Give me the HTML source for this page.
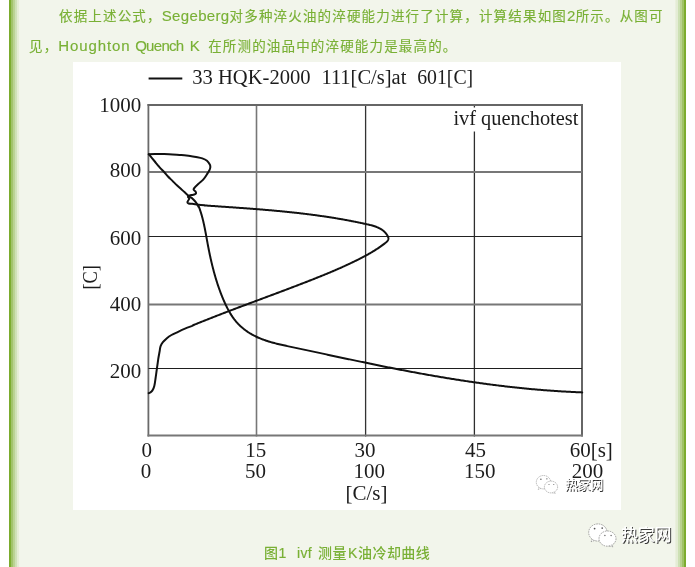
<!DOCTYPE html>
<html><head><meta charset="utf-8">
<style>
html,body{margin:0;padding:0;background:#fff;}
body{width:695px;height:567px;overflow:hidden;position:relative;}
.box{position:absolute;left:9px;top:0;width:677px;height:567px;
background:linear-gradient(to right,#7aab2b 0px,#7dad30 2px,#9fc266 2px,#a4c56e 4px,#b8d18f 4px,#bdd496 6px,#cde0b4 6px,#d2e3ba 8px,#e4ecd5 8px,#e6eed8 10px,#f1f4e6 10px,#f2f5eb 11px,#f2f5eb 666px,#f1f4e6 666px,#e4ecd5 667px,#e4ecd5 669px,#cde0b4 669px,#cde0b4 671px,#b8d18f 671px,#b8d18f 673px,#9fc266 673px,#9fc266 675px,#7dad30 675px,#7aab2b 677px);}
.p{position:absolute;left:28.5px;width:650px;color:#79b035;font-family:"Liberation Sans","Noto Sans CJK SC",sans-serif;font-size:13.5px;letter-spacing:1.17px;white-space:nowrap;line-height:20px;font-weight:normal;-webkit-text-stroke:0.15px #79b035;}
.p .e{font-size:15px;letter-spacing:0.35px;font-weight:normal;-webkit-text-stroke:0.15px #79b035;}
.chart{position:absolute;left:73px;top:62px;width:548px;height:448px;background:#fff;}
.chart svg{position:absolute;left:0;top:0;will-change:transform;}
.cap{position:absolute;top:543px;color:#79b035;font-family:"Liberation Sans","Noto Sans CJK SC",sans-serif;font-size:14px;letter-spacing:0.45px;font-weight:500;white-space:nowrap;line-height:20px;}
.cap .e{font-size:14px;letter-spacing:0.3px;font-weight:normal;-webkit-text-stroke:0.2px #79b035;}
.wm{position:absolute;font-family:"Noto Sans CJK SC",sans-serif;color:#fff;white-space:nowrap;line-height:1;}
.ov{position:absolute;left:0;top:0;}
.p,.cap,.wm{will-change:transform;}
</style></head><body>
<div class="box"></div>
<div class="p" style="top:6.1px;text-indent:30px;">依据上述公式，<span class="e">Segeberg</span>对多种淬火油的淬硬能力进行了计算，计算结果如图<span class="e">2</span>所示。从图可</div>
<div class="p" style="top:36px;">见，<span class="e" style="letter-spacing:0.9px">Houghton</span><span class="e"> </span><span class="e" style="letter-spacing:-0.7px">Quench</span><span class="e" style="letter-spacing:2.1px"> K </span>在所测的油品中的淬硬能力是最高的。</div>
<div class="chart">
<svg width="548" height="448" viewBox="73 62 548 448">
<g fill="none">
<line x1="148.4" y1="104" x2="148.4" y2="436.4" stroke="#6a6a6a" stroke-width="1.8"/>
<line x1="256.5" y1="104" x2="256.5" y2="436.4" stroke="#777" stroke-width="1.6"/>
<line x1="365.6" y1="104" x2="365.6" y2="436.4" stroke="#333" stroke-width="1.3"/>
<line x1="474.4" y1="104" x2="474.4" y2="436.4" stroke="#2e2e2e" stroke-width="1.3"/>
<line x1="582" y1="104" x2="582" y2="436.4" stroke="#666" stroke-width="2"/>
<line x1="147.5" y1="105" x2="583" y2="105" stroke="#666" stroke-width="2"/>
<line x1="148.5" y1="172" x2="582" y2="172" stroke="#777" stroke-width="2"/>
<line x1="148.5" y1="236.5" x2="582" y2="236.5" stroke="#222" stroke-width="1.2"/>
<line x1="148.5" y1="304.5" x2="582" y2="304.5" stroke="#777" stroke-width="1.8"/>
<line x1="148.5" y1="368.5" x2="582" y2="368.5" stroke="#1e1e1e" stroke-width="1.2"/>
<line x1="147.5" y1="435.5" x2="583" y2="435.5" stroke="#777" stroke-width="2"/>
<rect x="470" y="107.5" width="9" height="24" fill="#fff" stroke="none"/>
<line x1="148.6" y1="78.4" x2="182.3" y2="78.4" stroke="#111" stroke-width="2"/>
<path d="M148.8 154.3 C149.8 154.2 152.3 154.0 154.8 154.0 C157.3 154.0 160.7 154.0 163.6 154.1 C166.5 154.2 169.6 154.3 172.5 154.5 C175.4 154.7 178.4 154.8 181.3 155.0 C184.2 155.2 187.7 155.7 190.1 156.0 C192.5 156.3 194.0 156.6 196.0 157.0 C198.0 157.4 200.5 157.8 202.3 158.4 C204.1 159.0 205.8 159.8 207.0 160.8 C208.2 161.8 209.2 163.4 209.8 164.5 C210.4 165.6 210.4 166.5 210.3 167.5 C210.2 168.5 209.8 169.5 209.3 170.5 C208.8 171.5 208.4 172.1 207.4 173.6 C206.4 175.1 204.9 177.7 203.4 179.4 C201.9 181.1 199.9 182.4 198.5 183.7 C197.1 185.0 195.6 186.4 194.8 187.4 C194.0 188.4 193.5 188.9 193.6 189.6 C193.7 190.3 195.0 190.8 195.4 191.4 C195.8 192.0 196.2 192.8 196.0 193.3 C195.8 193.8 195.0 194.2 194.2 194.5 C193.4 194.8 192.0 194.9 191.1 195.1 C190.2 195.3 189.5 195.4 189.0 195.7 C188.5 196.0 187.9 196.5 188.0 197.0 C188.1 197.5 189.2 197.9 189.3 198.5 C189.4 199.1 188.6 199.8 188.3 200.4 C188.0 201.0 187.4 201.7 187.4 202.2 C187.4 202.7 187.8 203.2 188.6 203.5 C189.4 203.8 191.0 203.7 192.3 203.8 C193.7 204.0 194.6 204.2 196.7 204.4 C198.8 204.7 203.4 205.2 204.7 205.3 L204.59 205.44 L205.42 205.50 L206.24 205.56 L207.06 205.62 L207.89 205.67 L208.71 205.73 L209.53 205.79 L210.35 205.84 L211.18 205.90 L212.00 205.96 L212.82 206.01 L213.64 206.07 L214.46 206.12 L215.28 206.18 L216.10 206.24 L216.92 206.29 L217.74 206.35 L218.56 206.41 L219.38 206.46 L220.20 206.52 L221.01 206.57 L221.83 206.63 L222.65 206.69 L223.47 206.74 L224.29 206.80 L225.10 206.85 L225.92 206.91 L226.74 206.97 L227.55 207.02 L228.37 207.08 L229.18 207.14 L230.00 207.19 L230.82 207.25 L231.63 207.31 L232.45 207.36 L233.26 207.42 L234.07 207.48 L234.89 207.53 L235.70 207.59 L236.52 207.65 L237.33 207.71 L238.14 207.76 L238.96 207.82 L239.77 207.88 L240.58 207.94 L241.40 208.00 L242.21 208.06 L243.02 208.11 L243.83 208.17 L244.64 208.23 L245.46 208.29 L246.27 208.35 L247.08 208.41 L247.89 208.47 L248.70 208.53 L249.51 208.59 L250.32 208.66 L251.13 208.72 L251.94 208.78 L252.75 208.84 L253.56 208.90 L254.37 208.97 L255.18 209.03 L255.99 209.09 L256.80 209.16 L257.61 209.22 L258.42 209.28 L259.23 209.35 L260.04 209.41 L260.84 209.48 L261.65 209.54 L262.46 209.61 L263.27 209.68 L264.08 209.74 L264.88 209.81 L265.69 209.88 L266.50 209.95 L267.31 210.02 L268.11 210.09 L268.92 210.16 L269.73 210.23 L270.54 210.30 L271.34 210.37 L272.15 210.44 L272.96 210.51 L273.76 210.58 L274.57 210.66 L275.38 210.73 L276.18 210.80 L276.99 210.88 L277.80 210.95 L278.60 211.03 L279.41 211.10 L280.21 211.18 L281.02 211.26 L281.83 211.34 L282.63 211.41 L283.44 211.49 L284.24 211.57 L285.05 211.65 L285.85 211.73 L286.66 211.82 L287.47 211.90 L288.27 211.98 L289.08 212.06 L289.88 212.15 L290.69 212.23 L291.49 212.32 L292.30 212.40 L293.10 212.49 L293.91 212.58 L294.71 212.66 L295.52 212.75 L296.32 212.84 L297.13 212.93 L297.93 213.02 L298.74 213.11 L299.54 213.21 L300.35 213.30 L301.15 213.39 L301.96 213.49 L302.76 213.58 L303.57 213.68 L304.37 213.78 L305.18 213.87 L305.98 213.97 L306.79 214.07 L307.59 214.17 L308.40 214.27 L309.21 214.37 L310.01 214.48 L310.82 214.58 L311.62 214.68 L312.43 214.79 L313.23 214.90 L314.04 215.00 L314.84 215.11 L315.65 215.22 L316.45 215.33 L317.26 215.44 L318.06 215.55 L318.87 215.66 L319.68 215.78 L320.48 215.89 L321.29 216.00 L322.09 216.12 L322.90 216.24 L323.70 216.36 L324.51 216.47 L325.32 216.59 L326.12 216.71 L326.93 216.84 L327.74 216.96 L328.54 217.08 L329.35 217.21 L330.16 217.33 L330.96 217.46 L331.77 217.59 L332.58 217.72 L333.38 217.85 L334.19 217.98 L335.00 218.11 L335.81 218.24 L336.61 218.38 L337.42 218.51 L338.23 218.65 L339.04 218.79 L339.84 218.93 L340.65 219.07 L341.46 219.21 L342.27 219.35 L343.08 219.49 L343.89 219.64 L344.69 219.78 L345.50 219.93 L346.31 220.08 L347.12 220.23 L347.93 220.38 L348.74 220.53 L349.55 220.68 L350.36 220.84 L351.17 220.99 L351.98 221.15 L352.79 221.31 L353.60 221.47 L354.41 221.63 L355.22 221.79 L356.03 221.95 L356.85 222.11 L357.66 222.28 L358.47 222.45 L359.28 222.61 L360.09 222.78 L360.90 222.95 L361.72 223.12 L362.53 223.30 L363.34 223.47 L364.15 223.65 L364.97 223.83 L365.78 224.00 L366.59 224.18 L367.41 224.37 L368.22 224.55 L369.03 224.74 L369.84 224.93 L370.64 225.13 L371.44 225.34 L372.24 225.56 L373.02 225.78 L373.81 226.02 L374.58 226.27 L375.35 226.53 L376.10 226.80 L376.85 227.09 L377.58 227.39 L378.31 227.72 L379.02 228.05 L379.72 228.41 L380.40 228.79 L381.07 229.19 L381.73 229.61 L382.37 230.05 L382.99 230.52 L383.59 231.01 L384.17 231.53 L384.74 232.07 L385.28 232.65 L385.80 233.25 L386.30 233.89 L386.78 234.55 L387.23 235.25 L387.65 235.97 L388.00 236.71 L388.26 237.45 L388.40 238.18 L388.39 238.88 L388.24 239.54 L387.95 240.18 L387.56 240.80 L387.06 241.39 L386.50 241.97 L385.87 242.52 L385.21 243.07 L384.52 243.60 L383.83 244.12 L383.14 244.64 L382.45 245.15 L381.75 245.66 L381.06 246.15 L380.37 246.65 L379.67 247.13 L378.97 247.61 L378.28 248.08 L377.58 248.54 L376.88 249.00 L376.18 249.46 L375.49 249.91 L374.79 250.35 L374.08 250.79 L373.38 251.22 L372.68 251.65 L371.98 252.07 L371.27 252.49 L370.57 252.91 L369.86 253.32 L369.16 253.72 L368.45 254.12 L367.74 254.52 L367.03 254.92 L366.32 255.31 L365.61 255.69 L364.90 256.08 L364.19 256.46 L363.47 256.84 L362.76 257.21 L362.04 257.59 L361.32 257.96 L360.61 258.33 L359.89 258.69 L359.17 259.06 L358.45 259.42 L357.73 259.78 L357.00 260.14 L356.28 260.50 L355.55 260.86 L354.83 261.21 L354.10 261.57 L353.37 261.92 L352.64 262.27 L351.91 262.62 L351.18 262.97 L350.45 263.31 L349.72 263.66 L348.99 264.00 L348.25 264.35 L347.52 264.69 L346.78 265.03 L346.04 265.37 L345.31 265.71 L344.57 266.04 L343.83 266.38 L343.09 266.71 L342.35 267.05 L341.61 267.38 L340.86 267.71 L340.12 268.04 L339.38 268.37 L338.63 268.70 L337.89 269.02 L337.14 269.35 L336.39 269.67 L335.65 270.00 L334.90 270.32 L334.15 270.64 L333.40 270.96 L332.65 271.28 L331.90 271.60 L331.15 271.92 L330.40 272.24 L329.65 272.55 L328.89 272.87 L328.14 273.18 L327.39 273.50 L326.63 273.81 L325.88 274.12 L325.13 274.43 L324.37 274.74 L323.62 275.05 L322.86 275.36 L322.10 275.67 L321.35 275.97 L320.59 276.28 L319.83 276.59 L319.07 276.89 L318.32 277.20 L317.56 277.50 L316.80 277.80 L316.04 278.11 L315.28 278.41 L314.52 278.71 L313.76 279.01 L313.00 279.31 L312.24 279.61 L311.48 279.91 L310.72 280.21 L309.96 280.51 L309.20 280.80 L308.44 281.10 L307.68 281.40 L306.92 281.70 L306.16 281.99 L305.40 282.29 L304.64 282.58 L303.87 282.88 L303.11 283.17 L302.35 283.47 L301.59 283.76 L300.83 284.05 L300.07 284.35 L299.30 284.64 L298.54 284.93 L297.78 285.22 L297.02 285.52 L296.26 285.81 L295.50 286.10 L294.73 286.39 L293.97 286.68 L293.21 286.97 L292.45 287.26 L291.69 287.55 L290.92 287.84 L290.16 288.13 L289.40 288.42 L288.64 288.71 L287.87 289.00 L287.11 289.29 L286.35 289.57 L285.59 289.86 L284.83 290.15 L284.06 290.44 L283.30 290.72 L282.54 291.01 L281.78 291.30 L281.01 291.59 L280.25 291.87 L279.49 292.16 L278.72 292.44 L277.96 292.73 L277.20 293.02 L276.44 293.30 L275.67 293.59 L274.91 293.87 L274.15 294.16 L273.39 294.44 L272.62 294.73 L271.86 295.01 L271.10 295.30 L270.34 295.58 L269.57 295.87 L268.81 296.15 L268.05 296.44 L267.28 296.72 L266.52 297.01 L265.76 297.29 L265.00 297.58 L264.23 297.86 L263.47 298.15 L262.71 298.43 L261.95 298.71 L261.18 299.00 L260.42 299.28 L259.66 299.57 L258.90 299.85 L258.13 300.14 L257.37 300.42 L256.61 300.70 L255.85 300.99 L255.08 301.27 L254.32 301.56 L253.56 301.84 L252.80 302.13 L252.03 302.41 L251.27 302.70 L250.51 302.98 L249.75 303.27 L248.98 303.55 L248.22 303.84 L247.46 304.12 L246.70 304.41 L245.94 304.69 L245.17 304.98 L244.41 305.26 L243.65 305.55 L242.89 305.84 L242.13 306.12 L241.36 306.41 L240.60 306.69 L239.84 306.98 L239.08 307.27 L238.32 307.55 L237.56 307.84 L236.80 308.13 L236.03 308.42 L235.27 308.70 L234.51 308.99 L233.75 309.28 L232.99 309.57 L232.23 309.86 L231.47 310.15 L230.71 310.44 L229.95 310.73 L229.18 311.01 L228.42 311.30 L227.66 311.59 L226.90 311.89 L226.14 312.18 L225.38 312.47 L224.62 312.76 L223.86 313.05 L223.10 313.34 L222.34 313.63 L221.58 313.93 L220.82 314.22 L220.06 314.51 L219.30 314.81 L218.54 315.10 L217.78 315.40 L217.02 315.69 L216.27 315.99 L215.51 316.28 L214.75 316.58 L213.99 316.87 L213.23 317.17 L212.47 317.47 L211.71 317.76 L210.95 318.06 L210.19 318.36 L209.44 318.66 L208.68 318.96 L207.92 319.26 L207.16 319.56 L206.40 319.86 L205.65 320.16 L204.89 320.46 L204.13 320.76 L203.37 321.06 L202.62 321.37 L201.86 321.67 L201.10 321.97 L200.35 322.28 L199.59 322.58 L198.83 322.89 L198.08 323.19 L197.32 323.50 L196.56 323.81 L195.81 324.12 L195.05 324.42 L194.30 324.73 L193.54 325.04 L192.78 325.35 L192.9 325.6 C191.6 326.1 187.5 327.6 185.0 328.6 C182.5 329.6 180.3 330.7 178.1 331.8 C175.8 332.9 173.4 333.9 171.5 335.0 C169.6 336.1 168.3 337.0 166.9 338.2 C165.5 339.4 164.0 340.9 162.9 342.2 C161.8 343.5 161.2 344.6 160.6 346.2 C160.0 347.8 160.0 349.3 159.6 351.5 C159.2 353.7 158.6 356.5 158.2 359.4 C157.8 362.3 157.3 365.6 156.9 368.7 C156.5 371.8 156.0 375.1 155.6 378.0 C155.2 380.9 154.9 383.8 154.3 385.9 C153.8 388.0 153.0 389.5 152.3 390.6 C151.6 391.7 150.9 392.1 150.3 392.5 C149.7 392.9 149.0 393.1 148.7 393.2" stroke="#111" stroke-width="2" stroke-linejoin="round" stroke-linecap="round"/>
<path d="M148.8 154.2 C149.8 155.4 153.1 159.4 154.8 161.5 C156.5 163.6 157.6 165.1 159.2 166.8 C160.8 168.6 162.6 170.4 164.1 172.0 C165.6 173.6 166.6 175.0 168.0 176.5 C169.4 178.0 171.0 179.4 172.5 180.9 C174.0 182.4 175.4 183.9 176.9 185.3 C178.4 186.7 179.8 187.9 181.3 189.2 C182.8 190.5 184.4 192.0 185.7 193.2 C187.0 194.4 188.2 195.5 189.3 196.4 C190.4 197.3 191.4 197.7 192.3 198.5 C193.2 199.3 194.1 200.2 194.8 201.0 C195.5 201.8 196.1 202.5 196.7 203.5 C197.3 204.5 198.2 206.2 198.5 206.8 L198.86 206.67 L199.28 207.79 L199.69 208.92 L200.08 210.05 L200.45 211.19 L200.82 212.33 L201.17 213.47 L201.51 214.61 L201.83 215.76 L202.15 216.91 L202.45 218.06 L202.75 219.22 L203.03 220.38 L203.31 221.54 L203.58 222.70 L203.84 223.87 L204.10 225.03 L204.34 226.20 L204.59 227.37 L204.82 228.54 L205.05 229.72 L205.28 230.89 L205.51 232.07 L205.73 233.24 L205.94 234.42 L206.16 235.60 L206.37 236.78 L206.59 237.96 L206.80 239.14 L207.02 240.31 L207.23 241.49 L207.45 242.67 L207.66 243.85 L207.88 245.03 L208.11 246.21 L208.33 247.39 L208.56 248.56 L208.79 249.74 L209.03 250.91 L209.27 252.09 L209.51 253.26 L209.75 254.44 L210.00 255.61 L210.26 256.78 L210.51 257.95 L210.77 259.12 L211.04 260.29 L211.31 261.46 L211.58 262.63 L211.86 263.79 L212.14 264.96 L212.43 266.12 L212.72 267.29 L213.02 268.45 L213.32 269.61 L213.62 270.77 L213.93 271.93 L214.25 273.08 L214.57 274.24 L214.90 275.39 L215.24 276.55 L215.57 277.70 L215.92 278.85 L216.27 280.00 L216.63 281.15 L216.99 282.29 L217.36 283.44 L217.74 284.58 L218.12 285.72 L218.51 286.86 L218.90 288.00 L219.31 289.13 L219.71 290.27 L220.13 291.40 L220.55 292.53 L220.99 293.66 L221.42 294.79 L221.87 295.91 L222.32 297.03 L222.78 298.15 L223.25 299.27 L223.73 300.39 L224.22 301.50 L224.71 302.61 L225.21 303.72 L225.73 304.82 L226.25 305.91 L226.79 307.00 L227.34 308.08 L227.90 309.15 L228.47 310.21 L229.05 311.27 L229.65 312.31 L230.26 313.35 L230.89 314.37 L231.53 315.38 L232.19 316.37 L232.86 317.36 L233.55 318.32 L234.26 319.28 L234.99 320.22 L235.73 321.14 L236.49 322.04 L237.27 322.93 L238.07 323.80 L238.89 324.64 L239.73 325.47 L240.58 326.28 L241.46 327.08 L242.35 327.85 L243.26 328.60 L244.19 329.34 L245.13 330.05 L246.09 330.75 L247.06 331.43 L248.04 332.09 L249.04 332.73 L250.05 333.36 L251.07 333.96 L252.11 334.55 L253.15 335.12 L254.20 335.68 L255.26 336.21 L256.33 336.73 L257.41 337.23 L258.50 337.72 L259.59 338.19 L260.69 338.64 L261.80 339.08 L262.91 339.50 L264.03 339.91 L265.16 340.31 L266.29 340.70 L267.43 341.07 L268.57 341.43 L269.72 341.78 L270.87 342.12 L272.03 342.45 L273.19 342.77 L274.35 343.08 L275.52 343.39 L276.69 343.68 L277.86 343.97 L279.04 344.26 L280.22 344.53 L281.40 344.81 L282.58 345.07 L283.77 345.34 L284.96 345.60 L286.14 345.85 L287.33 346.11 L288.52 346.36 L289.71 346.61 L290.89 346.86 L292.08 347.11 L293.27 347.36 L294.46 347.61 L295.64 347.86 L296.83 348.11 L298.01 348.36 L299.20 348.61 L300.38 348.86 L301.56 349.11 L302.74 349.36 L303.93 349.61 L305.11 349.86 L306.29 350.12 L307.47 350.37 L308.65 350.62 L309.83 350.87 L311.01 351.12 L312.19 351.37 L313.37 351.63 L314.55 351.88 L315.72 352.13 L316.90 352.38 L318.08 352.63 L319.25 352.88 L320.43 353.14 L321.61 353.39 L322.78 353.64 L323.96 353.89 L325.13 354.14 L326.31 354.39 L327.48 354.65 L328.65 354.90 L329.83 355.15 L331.00 355.40 L332.17 355.65 L333.35 355.90 L334.52 356.15 L335.69 356.40 L336.86 356.65 L338.03 356.90 L339.21 357.15 L340.38 357.40 L341.55 357.65 L342.72 357.90 L343.89 358.15 L345.06 358.40 L346.23 358.65 L347.40 358.90 L348.57 359.15 L349.75 359.39 L350.92 359.64 L352.09 359.89 L353.26 360.14 L354.43 360.38 L355.60 360.63 L356.77 360.88 L357.94 361.12 L359.11 361.37 L360.28 361.61 L361.45 361.86 L362.62 362.10 L363.79 362.35 L364.96 362.59 L366.13 362.83 L367.30 363.08 L368.47 363.32 L369.64 363.56 L370.81 363.80 L371.98 364.04 L373.15 364.29 L374.32 364.53 L375.49 364.77 L376.66 365.00 L377.83 365.24 L379.00 365.48 L380.18 365.72 L381.35 365.96 L382.52 366.19 L383.69 366.43 L384.86 366.67 L386.04 366.90 L387.21 367.13 L388.38 367.37 L389.56 367.60 L390.73 367.83 L391.90 368.07 L393.08 368.30 L394.25 368.53 L395.43 368.76 L396.60 368.99 L397.78 369.22 L398.95 369.44 L400.13 369.67 L401.30 369.90 L402.48 370.12 L403.66 370.35 L404.83 370.57 L406.01 370.80 L407.19 371.02 L408.37 371.24 L409.54 371.47 L410.72 371.69 L411.90 371.91 L413.08 372.13 L414.26 372.35 L415.44 372.56 L416.62 372.78 L417.80 373.00 L418.98 373.21 L420.16 373.43 L421.34 373.64 L422.52 373.86 L423.70 374.07 L424.88 374.28 L426.06 374.49 L427.24 374.70 L428.43 374.91 L429.61 375.12 L430.79 375.33 L431.97 375.53 L433.16 375.74 L434.34 375.94 L435.52 376.15 L436.71 376.35 L437.89 376.55 L439.07 376.75 L440.26 376.95 L441.44 377.15 L442.63 377.35 L443.81 377.55 L445.00 377.75 L446.18 377.94 L447.37 378.14 L448.56 378.33 L449.74 378.52 L450.93 378.72 L452.11 378.91 L453.30 379.10 L454.49 379.29 L455.67 379.47 L456.86 379.66 L458.05 379.85 L459.24 380.03 L460.42 380.22 L461.61 380.40 L462.80 380.58 L463.99 380.76 L465.18 380.94 L466.36 381.12 L467.55 381.30 L468.74 381.48 L469.93 381.65 L471.12 381.83 L472.31 382.00 L473.50 382.17 L474.69 382.34 L475.88 382.51 L477.07 382.68 L478.26 382.85 L479.45 383.02 L480.64 383.18 L481.83 383.35 L483.02 383.51 L484.21 383.67 L485.40 383.83 L486.60 383.99 L487.79 384.15 L488.98 384.31 L490.17 384.47 L491.36 384.62 L492.55 384.78 L493.75 384.93 L494.94 385.08 L496.13 385.23 L497.32 385.38 L498.52 385.53 L499.71 385.67 L500.90 385.82 L502.09 385.96 L503.29 386.11 L504.48 386.25 L505.67 386.39 L506.87 386.53 L508.06 386.66 L509.25 386.80 L510.45 386.94 L511.64 387.07 L512.84 387.20 L514.03 387.33 L515.22 387.46 L516.42 387.59 L517.61 387.72 L518.81 387.84 L520.00 387.97 L521.20 388.09 L522.39 388.21 L523.59 388.33 L524.78 388.45 L525.98 388.57 L527.17 388.69 L528.37 388.80 L529.56 388.91 L530.76 389.03 L531.95 389.14 L533.15 389.25 L534.34 389.35 L535.54 389.46 L536.73 389.56 L537.93 389.67 L539.12 389.77 L540.32 389.87 L541.52 389.97 L542.71 390.06 L543.91 390.16 L545.10 390.25 L546.30 390.35 L547.50 390.44 L548.69 390.53 L549.89 390.62 L551.08 390.70 L552.28 390.79 L553.48 390.87 L554.67 390.95 L555.87 391.03 L557.06 391.11 L558.26 391.19 L559.46 391.27 L560.65 391.34 L561.85 391.41 L563.05 391.48 L564.24 391.55 L565.44 391.62 L566.64 391.69 L567.83 391.75 L569.03 391.81 L570.23 391.87 L571.42 391.93 L572.62 391.99 L573.82 392.05 L575.01 392.10 L576.21 392.15 L577.40 392.21 L578.60 392.26 L579.80 392.30 L580.99 392.35 L582.19 392.39" stroke="#111" stroke-width="2" stroke-linejoin="round" stroke-linecap="round"/>
</g>
<g font-family="Liberation Serif, serif" font-size="21" fill="#1c1c1c">
<g font-size="20.5">
<text x="192.2" y="83.8" textLength="118.5" lengthAdjust="spacingAndGlyphs">33 HQK-2000</text>
<text x="321.4" y="83.8" textLength="85" lengthAdjust="spacingAndGlyphs">111[C/s]at</text>
<text x="417.2" y="83.8" textLength="56" lengthAdjust="spacingAndGlyphs">601[C]</text>
</g>
<text x="453.4" y="125.3" font-size="21.5" textLength="125" lengthAdjust="spacingAndGlyphs">ivf quenchotest</text>
<g text-anchor="end">
<text x="141.3" y="112.4">1000</text>
<text x="141.3" y="177.4">800</text>
<text x="141.3" y="244.6">600</text>
<text x="141.3" y="311.3">400</text>
<text x="141.3" y="378.2">200</text>
</g>
<text x="141.5" y="456.6">0</text>
<text x="245.2" y="456.6">15</text>
<text x="354.5" y="456.6">30</text>
<text x="465" y="456.6">45</text>
<text x="569.7" y="456.6">60[s]</text>
<text x="140.7" y="477.6">0</text>
<text x="245" y="477.6">50</text>
<text x="353.6" y="477.6">100</text>
<text x="464" y="477.6">150</text>
<text x="571.8" y="477.6">200</text>
<text x="345.5" y="500.3">[C/s]</text>
<text transform="translate(96.5,289.5) rotate(-90)" textLength="24.5" lengthAdjust="spacingAndGlyphs">[C]</text>
</g>
</svg>
</div>
<svg class="ov" width="695" height="567">
<g stroke="#8a8a8a" stroke-width="0.62" stroke-dasharray="1.25 0.70" fill="#fff">
<ellipse cx="543.5" cy="482.2" rx="7.2" ry="6.7"/>
<path d="M539.2 487.3 L538.2 489.4 L541.2 488.3" />
<ellipse cx="551.0" cy="487.0" rx="6.6" ry="5.9"/>
<path d="M554.1 491.8 L555.4 493.4 L552.2 492.7" />
</g>
<g fill="#555" stroke="none">
<circle cx="540.9" cy="479.2" r="0.70"/>
<circle cx="546.9" cy="478.8" r="0.66"/>
<circle cx="549.0" cy="484.5" r="0.51"/>
<circle cx="553.8" cy="484.5" r="0.51"/>
</g><g stroke="#8a8a8a" stroke-width="0.80" stroke-dasharray="1.60 0.90" fill="#fff">
<ellipse cx="597.9" cy="532.5" rx="9.2" ry="8.6"/>
<path d="M592.4 539.0 L591.1 541.7 L594.9 540.3" />
<ellipse cx="607.5" cy="538.6" rx="8.5" ry="7.6"/>
<path d="M611.5 544.8 L613.1 546.8 L609.0 545.9" />
</g>
<g fill="#555" stroke="none">
<circle cx="594.6" cy="528.6" r="0.90"/>
<circle cx="602.2" cy="528.1" r="0.85"/>
<circle cx="604.9" cy="535.5" r="0.65"/>
<circle cx="611.1" cy="535.5" r="0.65"/>
</g>
</svg>
<div class="wm" style="left:564.5px;top:476.5px;font-size:13px;letter-spacing:-0.3px;font-weight:500;text-shadow:0.9px 0.9px 0 #333;">热家网</div>
<div class="cap" style="left:264.3px;">图<span class="e">1</span></div>
<div class="cap" style="left:296.5px;"><span class="e">ivf</span></div>
<div class="cap" style="left:318.3px;">测量</div>
<div class="cap" style="left:348.3px;"><span class="e">K</span></div>
<div class="cap" style="left:357.5px;">油冷却曲线</div>
<div class="wm" style="left:621px;top:525.3px;font-size:17px;letter-spacing:-0.3px;font-weight:500;text-shadow:1px 1px 0 #3a3a3a;">热家网</div>
</body></html>
